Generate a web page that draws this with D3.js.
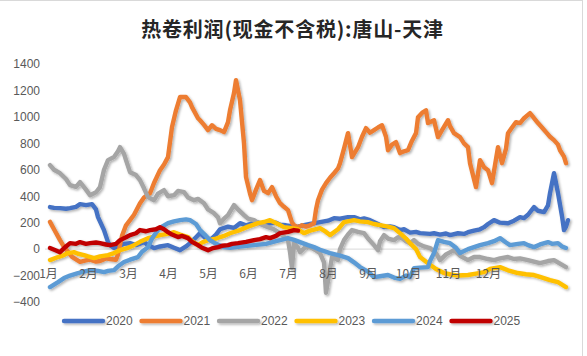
<!DOCTYPE html>
<html><head><meta charset="utf-8">
<script src="https://cdn.jsdelivr.net/npm/d3@7"></script>
<style>
html,body{margin:0;padding:0;background:#fff;}
svg{display:block;font-family:"Noto Sans CJK SC","Liberation Sans",sans-serif;}
</style></head>
<body><svg id="c" width="587" height="356"></svg>
<script>
// x positions are trading-day indices within the year; values in yuan/ton
const title = "热卷利润(现金不含税):唐山-天津";
const years = ["2020","2021","2022","2023","2024","2025"];
const colors = ["#4472C4","#ED7D31","#A5A5A5","#FFC000","#5B9BD5","#C00000"];
const monthLabels = ["1月","2月","3月","4月","5月","6月","7月","8月","9月","10月","11月","12月"];
const monthIdx = [0,20,40,60,80,100,120,140,160,180,200,220];
const yTicks = [-400,-200,0,200,400,600,800,1000,1200,1400];

const s2020 = [[1,318],[3,312],[6,310],[9,305],[11,310],[14,320],[16,340],[19,333],[22,340],[24,300],[25,242],[28,144],[30,53],[31,30],[33,8],[35,20],[38,40],[41,45],[44,30],[48,53],[50,30],[53,8],[56,20],[60,30],[63,10],[66,-8],[69,20],[71,45],[74,90],[76,121],[79,80],[81,68],[84,110],[86,150],[90,170],[93,160],[96,196],[99,180],[101,190],[104,205],[106,196],[109,185],[111,196],[114,200],[116,185],[119,180],[121,175],[123,165],[125,170],[128,181],[131,190],[134,198],[136,204],[140,215],[143,234],[146,230],[150,242],[153,242],[156,225],[158,232],[161,219],[165,190],[168,166],[171,172],[173,166],[176,144],[178,150],[181,125],[184,130],[186,121],[191,115],[193,120],[196,110],[199,118],[201,106],[205,120],[208,115],[210,128],[213,140],[216,150],[218,166],[220,190],[223,219],[226,200],[230,196],[233,215],[236,242],[238,235],[240,260],[243,318],[245,290],[248,280],[250,330],[251,423],[253,574],[254,500],[255,423],[257,250],[258,144],[259,170],[260,219]];
const s2021 = [[1,206],[3,150],[6,68],[8,17],[10,-20],[12,-58],[16,-96],[19,-85],[21,-80],[24,-95],[26,-90],[29,-70],[31,-75],[34,-80],[35,-40],[37,100],[39,180],[41,219],[43,260],[46,347],[48,390],[51,423],[53,500],[56,597],[58,640],[60,696],[62,923],[64,1050],[66,1150],[69,1150],[71,1110],[72,1074],[75,990],[76,975],[78,940],[80,900],[82,937],[84,910],[86,900],[88,885],[90,960],[91,1050],[93,1180],[94,1278],[96,1126],[98,800],[99,545],[101,420],[102,370],[104,450],[106,522],[108,440],[110,423],[112,469],[114,400],[116,347],[118,320],[120,295],[122,200],[123,181],[125,166],[127,180],[129,170],[131,180],[133,196],[134,300],[135,370],[137,450],[139,499],[141,540],[143,574],[145,610],[146,650],[148,760],[150,877],[152,696],[155,771],[157,850],[159,915],[161,880],[163,900],[165,920],[167,937],[169,850],[170,748],[172,790],[174,809],[176,726],[178,740],[180,748],[182,820],[184,877],[185,998],[187,1030],[189,1050],[190,953],[193,975],[195,847],[197,900],[200,975],[201,930],[203,877],[206,847],[208,800],[210,771],[211,650],[214,469],[216,673],[218,620],[220,597],[222,499],[225,771],[227,650],[229,760],[230,877],[232,920],[234,960],[236,953],[238,990],[241,1028],[243,990],[245,953],[247,920],[249,885],[251,850],[253,824],[255,790],[256,748],[258,700],[259,650]];
const s2022 = [[1,635],[3,600],[6,574],[9,530],[11,484],[14,470],[16,507],[19,450],[21,408],[24,430],[26,469],[28,600],[30,673],[33,696],[35,740],[36,771],[38,720],[39,673],[41,582],[44,560],[46,522],[48,460],[50,393],[53,370],[55,420],[58,446],[60,400],[63,408],[65,440],[68,431],[70,390],[73,370],[75,380],[78,347],[80,300],[83,272],[85,240],[86,196],[88,230],[90,257],[93,333],[95,300],[98,257],[100,230],[103,219],[106,190],[110,166],[113,150],[116,121],[119,80],[120,68],[121,-20],[122,-144],[123,45],[125,10],[126,-23],[129,20],[131,15],[134,-10],[136,-30],[138,-100],[139,-330],[141,-150],[142,-60],[145,-83],[146,0],[148,68],[150,110],[152,144],[155,130],[158,121],[160,80],[163,30],[165,-8],[166,60],[168,106],[170,80],[173,68],[175,90],[177,83],[179,60],[181,45],[183,68],[185,40],[188,20],[191,8],[194,-30],[196,-83],[199,-40],[203,-8],[206,-50],[210,-83],[213,-60],[216,-60],[220,-75],[223,-83],[226,-70],[230,-60],[233,-75],[236,-70],[240,-83],[243,-95],[246,-106],[250,-90],[253,-83],[256,-110],[259,-136]];
const s2023 = [[1,-83],[5,-60],[8,-45],[10,-30],[13,-23],[15,-35],[18,-45],[20,-55],[23,-68],[26,-55],[30,-45],[33,-30],[36,-8],[40,10],[43,30],[46,55],[50,83],[53,95],[56,106],[60,115],[63,128],[66,110],[70,91],[72,60],[75,30],[77,50],[80,68],[84,80],[88,100],[91,120],[96,144],[100,170],[105,196],[108,205],[111,219],[115,190],[118,166],[121,160],[125,150],[128,121],[131,140],[136,159],[139,130],[141,106],[145,150],[148,204],[153,219],[156,210],[160,204],[163,190],[166,181],[170,170],[173,159],[176,121],[179,80],[181,45],[184,0],[186,-60],[190,-106],[194,-150],[198,-181],[201,-190],[205,-200],[210,-196],[214,-185],[218,-174],[221,-150],[226,-136],[230,-160],[235,-181],[239,-190],[243,-196],[246,-210],[251,-234],[255,-250],[259,-287]];
const s2024 = [[1,-287],[5,-250],[8,-219],[11,-200],[15,-181],[18,-170],[21,-159],[25,-165],[28,-174],[30,-165],[33,-159],[35,-130],[38,-98],[41,-80],[45,-60],[47,-20],[50,15],[52,80],[55,144],[57,170],[60,196],[63,210],[66,219],[69,225],[71,219],[74,190],[76,144],[79,100],[81,68],[84,40],[88,15],[91,10],[96,20],[103,30],[109,40],[114,60],[120,83],[123,70],[126,53],[130,30],[133,15],[136,-5],[141,-30],[146,-50],[150,-68],[153,-100],[156,-136],[160,-170],[163,-212],[166,-205],[170,-196],[173,-215],[176,-225],[179,-200],[181,-212],[183,-144],[186,-140],[190,-136],[191,-90],[193,-30],[195,68],[198,55],[201,45],[204,10],[206,-30],[210,0],[213,15],[216,30],[220,45],[223,60],[226,83],[229,50],[231,30],[235,40],[238,45],[240,30],[243,15],[246,35],[250,53],[252,40],[255,45],[257,20],[259,8]];
const s2025 = [[1,8],[4,-10],[6,-23],[9,20],[11,45],[14,40],[16,53],[19,40],[21,45],[24,50],[26,45],[29,35],[31,30],[34,40],[36,68],[39,90],[41,106],[44,120],[46,144],[49,135],[51,144],[54,150],[56,166],[58,150],[60,128],[62,110],[65,91],[67,100],[70,83],[72,55],[75,30],[77,10],[80,-8],[82,5],[85,15],[87,25],[90,30],[92,40],[95,45],[99,55],[103,68],[106,75],[109,90],[111,83],[114,100],[116,121],[120,130],[123,144],[125,140]];
const series = [s2020,s2021,s2022,s2023,s2024,s2025];

const svg = d3.select("#c");
const defs = svg.append("defs");
const f = defs.append("filter").attr("id","sh").attr("filterUnits","userSpaceOnUse")
  .attr("x",0).attr("y",0).attr("width",587).attr("height",356);
f.append("feDropShadow").attr("dx",1.5).attr("dy",1.5).attr("stdDeviation",1.2).attr("flood-color","#000").attr("flood-opacity",0.3);

// frame
svg.append("line").attr("x1",0).attr("x2",583).attr("y1",0.5).attr("y2",0.5).attr("stroke","#d9d9d9");
svg.append("line").attr("x1",582.5).attr("x2",582.5).attr("y1",0).attr("y2",356).attr("stroke","#d9d9d9");

const x = d3.scaleLinear().domain([0,260]).range([48,568]);
const y = d3.scaleLinear().domain([-400,1400]).range([302,64]);

// title
svg.append("text").attr("x",292.5).attr("y",28).attr("text-anchor","middle")
  .attr("dominant-baseline","central").attr("font-size",20).attr("font-weight","bold")
  .attr("letter-spacing",0.8).attr("fill","#262626").text(title);

// y axis labels
const yAxis = d3.axisLeft(y).tickValues(yTicks).tickFormat(d3.format("d")).tickSize(0).tickPadding(0);
const gy = svg.append("g").attr("transform","translate(40,0)").call(yAxis);
gy.select(".domain").remove();
gy.selectAll("text").attr("font-size",12).attr("fill","#595959").attr("font-family","'Liberation Sans',sans-serif");

// zero axis line
svg.append("line").attr("x1",45).attr("x2",568).attr("y1",y(0)).attr("y2",y(0)).attr("stroke","#d9d9d9").attr("stroke-width",1);

// lines
const line = d3.line().x(d=>x(d[0])).y(d=>y(d[1])).curve(d3.curveLinear);
const gl = svg.append("g").attr("filter","url(#sh)");
series.forEach((s,i)=>{
  gl.append("path").datum(s).attr("d",line).attr("fill","none")
    .attr("stroke",colors[i]).attr("stroke-width",4.4)
    .attr("stroke-linejoin","round").attr("stroke-linecap","round");
});

// month labels on zero axis
const xAxis = d3.axisBottom(x).tickValues(monthIdx).tickFormat((d,i)=>monthLabels[i]).tickSize(0).tickPadding(0);
const gx = svg.append("g").attr("transform",`translate(0,${y(0)})`).call(xAxis);
gx.select(".domain").remove();
gx.selectAll("text").attr("font-size",12).attr("fill","#595959").attr("dy",null).attr("y",29)
  .attr("font-family","'Noto Sans CJK SC',sans-serif");

// legend
const lg = svg.append("g").attr("filter","url(#sh)");
years.forEach((yr,i)=>{
  const x0 = 64 + i*77.5;
  lg.append("line").attr("x1",x0).attr("x2",x0+39).attr("y1",321).attr("y2",321)
    .attr("stroke",colors[i]).attr("stroke-width",4.4).attr("stroke-linecap","round");
});
years.forEach((yr,i)=>{
  const x0 = 64 + i*77.5;
  svg.append("text").attr("x",x0+42).attr("y",321).attr("dominant-baseline","central")
    .attr("font-size",12).attr("fill","#595959").attr("font-family","'Liberation Sans',sans-serif").text(yr);
});
</script></body></html>
